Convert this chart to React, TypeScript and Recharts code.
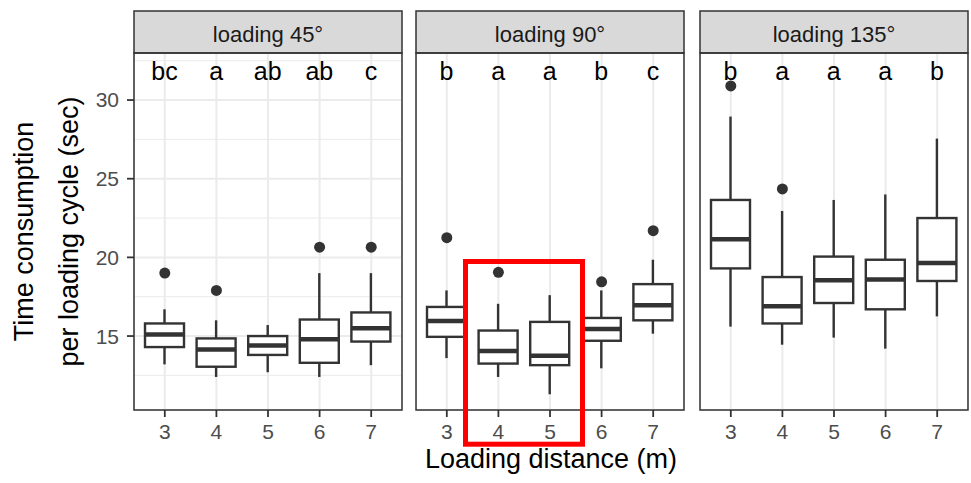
import React from 'react';
import { ComposedChart, Bar, Scatter, XAxis, YAxis, CartesianGrid, LabelList } from 'recharts';

const FONT = '"Liberation Sans", Arial, Helvetica, sans-serif';

const distances = ['3', '4', '5', '6', '7'];
const facetLabels = ['loading 45°', 'loading 90°', 'loading 135°'];

const whiskerLow = [
  [13.2, 12.4, 12.7, 12.4, 13.15],
  [13.6, 12.4, 11.3, 12.95, 15.15],
  [15.6, 14.45, 14.9, 14.2, 16.25],
];
const quartile1 = [
  [14.3, 13.05, 13.8, 13.3, 14.65],
  [14.95, 13.25, 13.15, 14.7, 16.0],
  [19.3, 15.8, 17.1, 16.7, 18.5],
];
const medians = [
  [15.1, 14.15, 14.4, 14.8, 15.5],
  [15.95, 14.05, 13.75, 15.45, 16.95],
  [21.15, 16.9, 18.55, 18.6, 19.65],
];
const quartile3 = [
  [15.8, 14.85, 15.0, 16.05, 16.5],
  [16.85, 15.35, 15.9, 16.15, 18.3],
  [23.65, 18.75, 20.05, 19.85, 22.5],
];
const whiskerHigh = [
  [16.7, 16.0, 15.7, 19.0, 19.0],
  [17.9, 17.05, 17.6, 17.9, 19.85],
  [28.95, 22.95, 23.65, 24.0, 27.55],
];
const outliers: (number | null)[][] = [
  [19.0, 17.9, null, 20.65, 20.65],
  [21.25, 19.05, null, 18.45, 21.7],
  [30.9, 24.35, null, null, null],
];
const letters = [
  ['bc', 'a', 'ab', 'ab', 'c'],
  ['b', 'a', 'a', 'b', 'c'],
  ['b', 'a', 'a', 'a', 'b'],
];
const yTicks = [15, 20, 25, 30];
const yMinorTicks = [12.5, 17.5, 22.5, 27.5, 32.5];
const Y_DOMAIN: [number, number] = [10.3, 32.99];

// layout
const PLOT_TOP = 53;
const PLOT_BOTTOM = 410;
const CHART_H = 483;
const PANEL_W = 268;
const panelLefts = [134, 416, 700];
const STRIP_TOP = 11;
const LETTER_BASELINE = 80;

const BOX = '#333333';

const BoxShape = (props: any) => {
  const { x, y, width, height, payload } = props;
  if (x == null || y == null || !payload) return null;
  const top = Math.min(y, y + height);
  const h = Math.abs(height);
  const span = payload.high - payload.low;
  const ppu = span > 0 ? h / span : 0;
  const py = (v: number) => top + (payload.high - v) * ppu;
  const cx = x + width / 2;
  return (
    <g>
      <line x1={cx} x2={cx} y1={py(payload.high)} y2={py(payload.q3)} stroke={BOX} strokeWidth={2.4} />
      <line x1={cx} x2={cx} y1={py(payload.q1)} y2={py(payload.low)} stroke={BOX} strokeWidth={2.4} />
      <rect
        x={x}
        y={py(payload.q3)}
        width={width}
        height={py(payload.q1) - py(payload.q3)}
        fill="#ffffff"
        stroke={BOX}
        strokeWidth={2.4}
      />
      <line x1={x} x2={x + width} y1={py(payload.median)} y2={py(payload.median)} stroke={BOX} strokeWidth={4.5} />
    </g>
  );
};

const LetterLabel = (props: any) => {
  const vb = props.viewBox || props;
  const bx = vb.x != null ? vb.x : props.x;
  const bw = vb.width != null ? vb.width : props.width;
  if (bx == null) return null;
  return (
    <text
      x={bx + bw / 2}
      y={LETTER_BASELINE}
      textAnchor="middle"
      fontSize={25}
      fontFamily={FONT}
      fill="#000000"
    >
      {props.value}
    </text>
  );
};

const OutlierDot = (props: any) => {
  const { cx, cy } = props;
  if (cx == null || cy == null || isNaN(cx) || isNaN(cy)) return null;
  return <circle cx={cx} cy={cy} r={5.5} fill={BOX} />;
};

function Panel({ idx }: { idx: number }) {
  const data = distances.map((d, i) => ({
    dist: d,
    low: whiskerLow[idx][i],
    q1: quartile1[idx][i],
    median: medians[idx][i],
    q3: quartile3[idx][i],
    high: whiskerHigh[idx][i],
    range: [whiskerLow[idx][i], whiskerHigh[idx][i]],
    out: outliers[idx][i],
    letter: letters[idx][i],
  }));
  const first = idx === 0;
  const yAxisW = first ? panelLefts[0] : 0;
  const chartLeft = first ? 0 : panelLefts[idx];
  const chartW = PANEL_W + yAxisW;
  const tickStyle = { fill: '#4d4d4d', fontSize: 21, fontFamily: FONT };
  return (
    <div style={{ position: 'absolute', left: chartLeft, top: 0, width: chartW, height: CHART_H }}>
      <ComposedChart
        width={chartW}
        height={CHART_H}
        data={data}
        margin={{ top: PLOT_TOP, right: 0, bottom: 0, left: 0 }}
      >
        <CartesianGrid
          horizontalValues={yMinorTicks}
          vertical={false}
          stroke="#ebebeb"
          strokeWidth={1}
        />
        <CartesianGrid stroke="#ebebeb" strokeWidth={2} />
        <XAxis
          dataKey="dist"
          type="category"
          height={CHART_H - PLOT_BOTTOM}
          padding={{ left: 5, right: 5 }}
          interval={0}
          axisLine={false}
          tickLine={{ stroke: '#333333', strokeWidth: 1.8 }}
          tickSize={7}
          tickMargin={7}
          tick={tickStyle}
          allowDuplicatedCategory={false}
        />
        {first ? (
          <YAxis
            type="number"
            domain={Y_DOMAIN}
            ticks={yTicks}
            allowDataOverflow
            width={yAxisW}
            axisLine={false}
            tickLine={{ stroke: '#333333', strokeWidth: 1.8 }}
            tickSize={7}
            tickMargin={8}
            tick={tickStyle}
          />
        ) : (
          <YAxis
            type="number"
            domain={Y_DOMAIN}
            ticks={yTicks}
            allowDataOverflow
            width={0}
            axisLine={false}
            tickLine={false}
            tick={false}
          />
        )}
        <Bar dataKey="range" barSize={39} shape={BoxShape} isAnimationActive={false}>
          <LabelList dataKey="letter" content={LetterLabel} />
        </Bar>
        <Scatter dataKey="out" shape={OutlierDot} isAnimationActive={false} />
      </ComposedChart>
    </div>
  );
}

export default function App() {
  const stripH = PLOT_TOP - STRIP_TOP;
  return (
    <div
      style={{
        position: 'absolute',
        left: 0,
        top: 0,
        width: 971,
        height: 483,
        background: '#ffffff',
        fontFamily: FONT,
        overflow: 'hidden',
      }}
    >
      {facetLabels.map((_, i) => (
        <Panel key={i} idx={i} />
      ))}
      <svg
        width={971}
        height={483}
        style={{ position: 'absolute', left: 0, top: 0, pointerEvents: 'none' }}
      >
        {facetLabels.map((lab, i) => (
          <g key={lab}>
            <rect
              x={panelLefts[i]}
              y={STRIP_TOP}
              width={PANEL_W}
              height={stripH}
              fill="#d9d9d9"
              stroke="#333333"
              strokeWidth={1.5}
            />
            <text
              x={panelLefts[i] + PANEL_W / 2}
              y={41.5}
              textAnchor="middle"
              fontSize={22}
              fontFamily={FONT}
              fill="#1a1a1a"
            >
              {lab}
            </text>
            <rect
              x={panelLefts[i]}
              y={PLOT_TOP}
              width={PANEL_W}
              height={PLOT_BOTTOM - PLOT_TOP}
              fill="none"
              stroke="#333333"
              strokeWidth={1.5}
            />
          </g>
        ))}
        <text
          x={33}
          y={231.5}
          transform="rotate(-90 33 231.5)"
          textAnchor="middle"
          fontSize={27}
          fontFamily={FONT}
          fill="#000000"
        >
          Time consumption
        </text>
        <text
          x={78}
          y={231.5}
          transform="rotate(-90 78 231.5)"
          textAnchor="middle"
          fontSize={27}
          fontFamily={FONT}
          fill="#000000"
        >
          per loading cycle (sec)
        </text>
        <text x={551} y={468} textAnchor="middle" fontSize={27} fontFamily={FONT} fill="#000000">
          Loading distance (m)
        </text>
        <rect x={465.5} y={261.5} width={117} height={182.7} fill="none" stroke="#ff0000" strokeWidth={5} />
      </svg>
    </div>
  );
}
